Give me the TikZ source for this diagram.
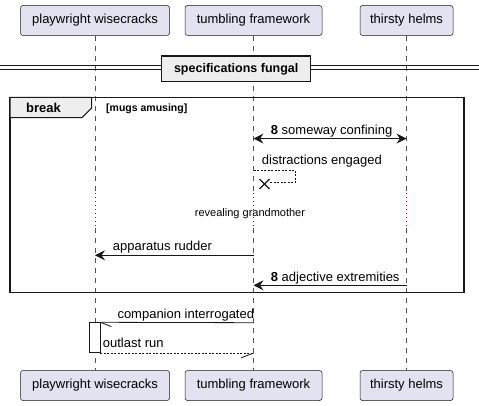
\documentclass[tikz,border=0pt]{standalone}
\usepackage{fontspec}
\setmainfont{Liberation Sans}
\usetikzlibrary{arrows.meta,calc}
\definecolor{partfill}{HTML}{E2E2F0}
\definecolor{lineclr}{HTML}{181818}
\definecolor{lifeclr}{HTML}{555555}
\definecolor{delayclr}{HTML}{A80036}
\definecolor{grayfill}{HTML}{EEEEEE}
\begin{document}
\begin{tikzpicture}[x=1pt,y=-1pt,
 part/.style={draw=lineclr, fill=partfill, rounded corners=2.5pt, minimum height=30pt, inner sep=0pt, font=\fontsize{13}{15}\selectfont, line width=0.5pt},
 life/.style={draw=lifeclr, dash pattern=on 5pt off 5pt, line width=0.5pt},
 delayline/.style={draw=delayclr, dash pattern=on 1.2pt off 2.8pt, line width=1pt},
 msg/.style={draw=lineclr, line width=0.8pt, -{Stealth[length=10pt,width=10pt,inset=3.5pt]}},
 bimsg/.style={draw=lineclr, line width=0.8pt, {Stealth[length=10pt,width=10pt,inset=3.5pt]}-{Stealth[length=10pt,width=10pt,inset=3.5pt]}},
 lbl/.style={font=\fontsize{13}{15}\selectfont, inner sep=0pt, anchor=base west},
 smalllbl/.style={font=\fontsize{11}{13}\selectfont, inner sep=0pt, anchor=base},
]
\useasboundingbox (0,0) rectangle (479,406);

% participants
\node[part, minimum width=149pt] (pwT) at (95,20.5) {playwright wisecracks};
\node[part, minimum width=137pt] (tfT) at (253.5,20.5) {tumbling framework};
\node[part, minimum width=93pt] (thT) at (406.5,20.5) {thirsty helms};
\node[part, minimum width=149pt] (pwB) at (95,385.5) {playwright wisecracks};
\node[part, minimum width=137pt] (tfB) at (253.5,385.5) {tumbling framework};
\node[part, minimum width=93pt] (thB) at (406.5,385.5) {thirsty helms};

% lifelines
\foreach \p in {pw,tf,th}{
  \draw[life] (\p T.south) -- (\p T.south |- 0,192);
  \draw[delayline] (\p T.south |- 0,193) -- (\p T.south |- 0,227);
  \draw[life] (\p T.south |- 0,228) -- (\p B.north);
}

% divider
\draw[lineclr, line width=1pt] (0,66) -- (479,66);
\draw[lineclr, line width=1pt] (0,70) -- (479,70);
\node[draw=lineclr, fill=grayfill, line width=1.5pt, minimum width=149pt, minimum height=25.5pt, inner sep=0pt, font=\bfseries\fontsize{12.5}{15}\selectfont] (div) at (236.2,68.8) {specifications fungal};

% break frame
\draw[lineclr, line width=1.5pt] (10,97.3) rectangle (464,292.7);
\draw[lineclr, fill=grayfill, line width=1pt] (10,97.3) -- (91.7,97.3) -- (91.7,108) -- (82,117.7) -- (10,117.7) -- cycle;
\node[font=\bfseries\fontsize{13}{15}\selectfont, inner sep=0pt, anchor=base] (brk) at (43.5,112.7) {break};
\node[font=\bfseries\fontsize{10.5}{13}\selectfont, inner sep=0pt, anchor=base west] (guard) at (106,111.5) {[mugs amusing]};

% messages
\draw[bimsg] (tfT.south |- 0,138.6) -- (thT.south |- 0,138.6);
\node[lbl] (m1) at (270.7,135) {\textbf{8} someway confining};

\node[lbl] (m2) at (261.7,165) {distractions engaged};
\draw[lineclr, line width=0.6pt, dash pattern=on 2pt off 1.5pt] (tfT.south |- 0,170.7) -- (295.3,170.7) -- (295.3,182.7) -- (270,182.7);
\coordinate (xmark) at (264.5,184);
\draw[lineclr, line width=1.4pt] ($(xmark)+(-5,-5)$) -- ($(xmark)+(5,5)$);
\draw[lineclr, line width=1.4pt] ($(xmark)+(-5,5)$) -- ($(xmark)+(5,-5)$);

\node[smalllbl] (delay) at (250,216) {revealing grandmother};

\draw[msg] (tfT.south |- 0,255.3) -- (pwT.south |- 0,255.3);
\node[lbl] (m3) at (112.7,250) {apparatus rudder};

\draw[msg] (thT.south |- 0,285.3) -- (tfT.south |- 0,285.3);
\node[lbl] (m4) at (270.7,281) {\textbf{8} adjective extremities};

% activation
\node[draw=lineclr, fill=white, line width=0.8pt, minimum width=10.7pt, minimum height=30pt, inner sep=0pt] (act) at (94.7,337.7) {};

\draw[lineclr, line width=0.8pt] (tfT.south |- 0,322.7) -- (act.north east);
\draw[lineclr, line width=0.8pt] (act.north east) -- ++(11,4.3);
\node[lbl] (m5) at (117.3,318.3) {companion interrogated};

\draw[lineclr, line width=0.8pt, dash pattern=on 2pt off 1.5pt] (act.south east) -- (tfT.south |- act.south);
\draw[lineclr, line width=0.8pt] (tfT.south |- act.south) -- ++(-12.5,4.7);
\node[lbl] (m6) at (102.7,347.7) {outlast run};
\end{tikzpicture}
\end{document}
